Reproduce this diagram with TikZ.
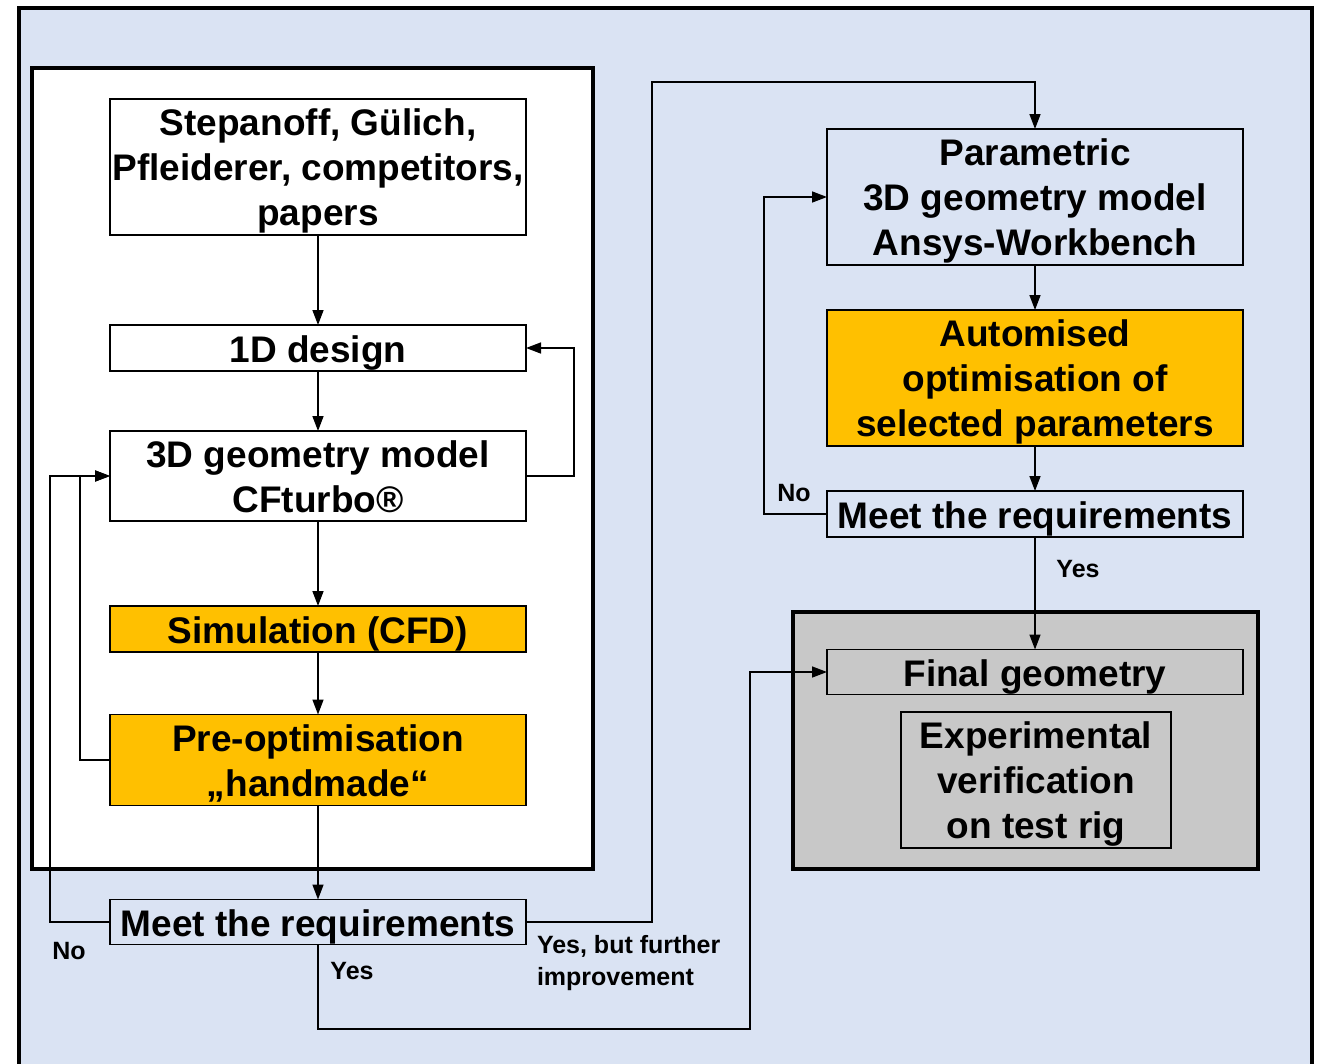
\documentclass[tikz,border=0pt]{standalone}
\usepackage{fontspec}
\setmainfont{Liberation Sans}
\usetikzlibrary{arrows.meta}
\definecolor{paneBlue}{RGB}{218,227,243}
\definecolor{simOrange}{RGB}{255,192,0}
\definecolor{rigGray}{RGB}{200,200,200}
\newcommand{\liftline}{\rule{0pt}{35pt}}
\begin{document}
\begin{tikzpicture}[y=-1pt, x=1pt, inner sep=0pt, outer sep=0pt,
  box/.style={draw=black, line width=1.5pt, align=center, minimum width=416pt, font=\fontsize{37}{45}\selectfont\bfseries,
    execute at begin node={\rule{0pt}{37pt}}, execute at end node={\rule[-8pt]{0pt}{0pt}}},
  frame/.style={draw=black, line width=4.5pt, line join=miter},
  flow/.style={draw=black, line width=1.5pt, -{Triangle[length=15pt,width=11pt]}},
  lbl/.style={font=\fontsize{25}{32}\selectfont\bfseries, align=left}]
\useasboundingbox (0,0) rectangle (1322,1063);
\path[fill=paneBlue, frame] (19,8) rectangle (1312,1080);
\path[fill=white, frame] (32,68) rectangle (593,869);
\path[fill=rigGray, frame] (793,612) rectangle (1258,869);
% left column
\node[box, fill=white, minimum height=136pt] (sources) at (318,167) {\liftline Stepanoff, Gülich,\\Pfleiderer, competitors,\\papers};
\node[box, fill=white, minimum height=46pt] (design1d) at (318,348) {1D design};
\node[box, fill=white, minimum height=90pt] (cfturbo) at (318,476) {\liftline 3D geometry model\\CFturbo®};
\node[box, fill=simOrange, minimum height=46pt] (cfd) at (318,629) {Simulation (CFD)};
\node[box, fill=simOrange, minimum height=91pt] (preopt) at (318,760) {\liftline Pre-optimisation\\„handmade“};
\node[box, fill=paneBlue, minimum height=45pt] (meetleft) at (318,922) {Meet the requirements};
% right column
\node[box, fill=paneBlue, minimum height=136pt] (ansys) at (1035,197) {\liftline Parametric\\3D geometry model\\Ansys-Workbench};
\node[box, fill=simOrange, minimum height=136pt] (autoopt) at (1035,378) {\liftline Automised\\optimisation of\\selected parameters};
\node[box, fill=paneBlue, minimum height=46pt] (meetright) at (1035,514) {Meet the requirements};
\node[box, fill=rigGray, minimum height=45pt] (final) at (1035,672) {Final geometry};
\node[box, fill=rigGray, minimum width=270pt, minimum height=136pt] (testrig) at (1036,780) {\liftline Experimental\\verification\\on test rig};
\coordinate (topturn) at (652,82);
\coordinate (lowturn) at (750,1029);
% connectors
\draw[flow] (sources) -- (design1d);
\draw[flow] (design1d) -- (cfturbo);
\draw[flow] (cfturbo) -- (cfd);
\draw[flow] (cfd) -- (preopt);
\draw[flow] (preopt) -- (meetleft);
\draw[flow] (cfturbo.east) -- ++(48,0) |- (design1d.east);
\draw[flow] (preopt.west) -- ++(-30,0) |- (cfturbo.west);
\draw[flow] (meetleft.west) -- ++(-60,0) |- (cfturbo.west);
\draw[flow] (meetleft.east) -| (topturn) -| (ansys.north);
\draw[flow] (meetleft.south) |- (lowturn) |- (final.west);
\draw[flow] (ansys) -- (autoopt);
\draw[flow] (autoopt) -- (meetright);
\draw[flow] (meetright.west) -- ++(-63,0) |- (ansys.west);
\draw[flow] (meetright) -- (final);
% labels
\node[lbl] (noleft) at (69,951) {No};
\node[lbl] (yesleft) at (352,971) {Yes};
\node[lbl, anchor=west] (yesbut) at (537,963) {Yes, but further\\improvement};
\node[lbl] (noright) at (794,493) {No};
\node[lbl] (yesright) at (1078,569) {Yes};
\end{tikzpicture}
\end{document}
